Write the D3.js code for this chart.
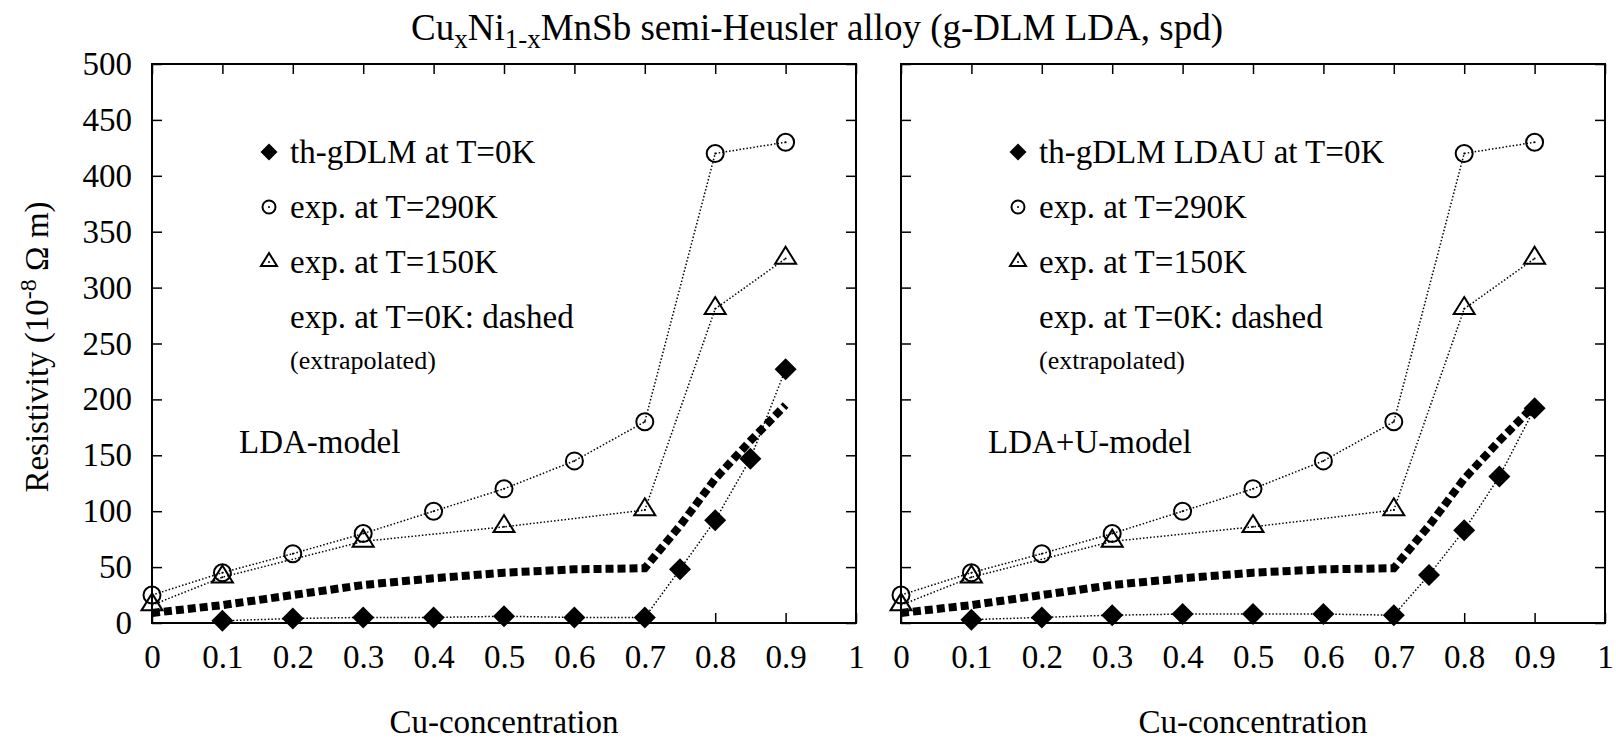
<!DOCTYPE html>
<html>
<head>
<meta charset="utf-8">
<script src="https://cdn.jsdelivr.net/npm/d3@7"></script>
<style>
	body { margin: 0; background: #fff; }
	text { font-family: "Liberation Serif", "Times New Roman", serif; fill: #000; }
</style>
</head>
<body>
<div id="plot"></div>
<script>
// Cu concentration values and resistivities (10^-8 Ohm m)
const x_exp290 = [0, 0.1, 0.2, 0.3, 0.4, 0.5, 0.6, 0.7, 0.8, 0.9];
const exp290 = [25, 45, 62, 80, 100, 120, 145, 180, 420, 430];

const x_exp150 = [0, 0.1, 0.3, 0.5, 0.7, 0.8, 0.9];
const exp150 = [16, 41, 73, 86, 101, 281, 326];

const x_exp0 = [0, 0.1, 0.2, 0.3, 0.4, 0.5, 0.6, 0.7, 0.75, 0.8, 0.85, 0.9];
const exp0 = [9, 16, 25, 34, 40, 45, 48, 49, 87, 129, 163, 195];

const x_theory = [0.1, 0.2, 0.3, 0.4, 0.5, 0.6, 0.7, 0.75, 0.8, 0.85, 0.9];
const theory_lda = [2, 4, 5, 5, 6, 5, 5, 48, 92, 147, 227];
const theory_ldau = [3, 5, 7, 8, 8, 8, 7, 43, 83, 131, 192];

const x_ticks = [0, 0.1, 0.2, 0.3, 0.4, 0.5, 0.6, 0.7, 0.8, 0.9, 1];
const y_ticks = [0, 50, 100, 150, 200, 250, 300, 350, 400, 450, 500];

const panels = [
	{ left: 152, theory: theory_lda, legend: "th-gDLM at T=0K", model: "LDA-model", ylabels: true },
	{ left: 901, theory: theory_ldau, legend: "th-gDLM LDAU at T=0K", model: "LDA+U-model", ylabels: false },
];

const W = 1616, H = 739;
const plot_top = 64, plot_bottom = 623, plot_w = 704;
const font_size = 33;

const svg = d3
	.select("#plot")
	.append("svg")
	.attr("width", W)
	.attr("height", H);

const y = d3.scaleLinear().domain([0, 500]).range([plot_bottom, plot_top]);

function pairs(xs, ys) {
	return xs.map((d, i) => [d, ys[i]]);
}

function diamond(g, cx, cy, r) {
	g.append("path")
		.attr("d", `M${cx},${cy - r}L${cx + r},${cy}L${cx},${cy + r}L${cx - r},${cy}Z`)
		.attr("fill", "#000");
}

function circle(g, cx, cy, r) {
	g.append("circle").attr("cx", cx).attr("cy", cy).attr("r", r)
		.attr("fill", "none").attr("stroke", "#000").attr("stroke-width", 2);
	g.append("circle").attr("cx", cx).attr("cy", cy).attr("r", 1).attr("fill", "#000");
}

function triangle(g, cx, cy, h) {
	g.append("path")
		.attr("d", `M${cx},${cy - 1.12 * h}L${cx + h},${cy + 0.5 * h}L${cx - h},${cy + 0.5 * h}Z`)
		.attr("fill", "none").attr("stroke", "#000").attr("stroke-width", 2)
		.attr("stroke-linejoin", "miter");
	g.append("circle").attr("cx", cx).attr("cy", cy).attr("r", 1).attr("fill", "#000");
}

function draw_panel(p) {
	const x = d3.scaleLinear().domain([0, 1]).range([p.left, p.left + plot_w]);
	const g = svg.append("g");

	const line = d3.line().x((d) => x(d[0])).y((d) => y(d[1]));

	// ticks on all four sides, pointing inwards
	g.append("g")
		.attr("transform", `translate(0,${plot_bottom})`)
		.call(d3.axisBottom(x).tickValues(x_ticks).tickSize(-10).tickSizeOuter(0).tickPadding(22)
			.tickFormat((d) => d3.format("")(d)))
		.call((a) => a.select(".domain").remove())
		.selectAll("text")
		.style("font-size", font_size + "px")
		.style("font-family", "Liberation Serif");
	g.append("g")
		.attr("transform", `translate(0,${plot_top})`)
		.call(d3.axisTop(x).tickValues(x_ticks).tickSize(-10).tickFormat(""))
		.call((a) => a.select(".domain").remove());
	const yl = g.append("g")
		.attr("transform", `translate(${p.left},0)`)
		.call(d3.axisLeft(y).tickValues(y_ticks).tickSize(-10).tickPadding(20)
			.tickFormat(p.ylabels ? d3.format("") : ""))
		.call((a) => a.select(".domain").remove());
	yl.selectAll("text").style("font-size", font_size + "px").style("font-family", "Liberation Serif");
	g.append("g")
		.attr("transform", `translate(${p.left + plot_w},0)`)
		.call(d3.axisRight(y).tickValues(y_ticks).tickSize(-10).tickFormat(""))
		.call((a) => a.select(".domain").remove());
	g.selectAll(".tick line").attr("stroke-width", 1.5);

	g.append("rect")
		.attr("x", p.left).attr("y", plot_top)
		.attr("width", plot_w).attr("height", plot_bottom - plot_top)
		.attr("fill", "none").attr("stroke", "#000").attr("stroke-width", 2);

	// extrapolated T=0K experiment: thick dashed
	g.append("path")
		.datum(pairs(x_exp0, exp0))
		.attr("d", line)
		.attr("fill", "none").attr("stroke", "#000")
		.attr("stroke-width", 8).attr("stroke-dasharray", "8,4");

	const dotted = [pairs(x_exp290, exp290), pairs(x_exp150, exp150), pairs(x_theory, p.theory)];
	dotted.forEach((d) => {
		g.append("path")
			.datum(d)
			.attr("d", line)
			.attr("fill", "none").attr("stroke", "#000")
			.attr("stroke-width", 1.5).attr("stroke-dasharray", "1.5,2");
	});

	pairs(x_exp290, exp290).forEach((d) => circle(g, x(d[0]), y(d[1]), 8.5));
	pairs(x_exp150, exp150).forEach((d) => triangle(g, x(d[0]), y(d[1]), 10.5));
	pairs(x_theory, p.theory).forEach((d) => diamond(g, x(d[0]), y(d[1]), 11));

	// legend
	const lx = p.left + 117, tx = p.left + 138;
	const rows = [152, 207, 262, 317];
	diamond(g, lx, rows[0], 8.5);
	circle(g, lx, rows[1], 6.5);
	triangle(g, lx, rows[2], 8);
	const labels = [p.legend, "exp. at T=290K", "exp. at T=150K", "exp. at T=0K: dashed"];
	labels.forEach((t, i) => {
		g.append("text").attr("x", tx).attr("y", rows[i] + 11)
			.style("font-size", font_size + "px").text(t);
	});
	g.append("text").attr("x", tx).attr("y", 369).style("font-size", "26px").text("(extrapolated)");

	g.append("text").attr("x", p.left + 87).attr("y", 453)
		.style("font-size", font_size + "px").text(p.model);

	g.append("text").attr("x", p.left + plot_w / 2).attr("y", 733)
		.attr("text-anchor", "middle")
		.style("font-size", font_size + "px").text("Cu-concentration");
}

panels.forEach(draw_panel);

// title with subscripts
const title = svg.append("text")
	.attr("x", 817).attr("y", 40)
	.attr("text-anchor", "middle")
	.style("font-size", "37px");
title.append("tspan").text("Cu");
title.append("tspan").attr("dy", 8).style("font-size", "27px").text("x");
title.append("tspan").attr("dy", -8).text("Ni");
title.append("tspan").attr("dy", 8).style("font-size", "27px").text("1-x");
title.append("tspan").attr("dy", -8).text("MnSb semi-Heusler alloy (g-DLM LDA, spd)");

// y axis label
const ylab = svg.append("text")
	.attr("transform", "translate(48,347) rotate(-90)")
	.attr("text-anchor", "middle")
	.style("font-size", font_size + "px");
ylab.append("tspan").text("Resistivity (10");
ylab.append("tspan").attr("dy", -12).style("font-size", "24px").text("-8");
ylab.append("tspan").attr("dy", 12).text(" Ω m)");
</script>
</body>
</html>
